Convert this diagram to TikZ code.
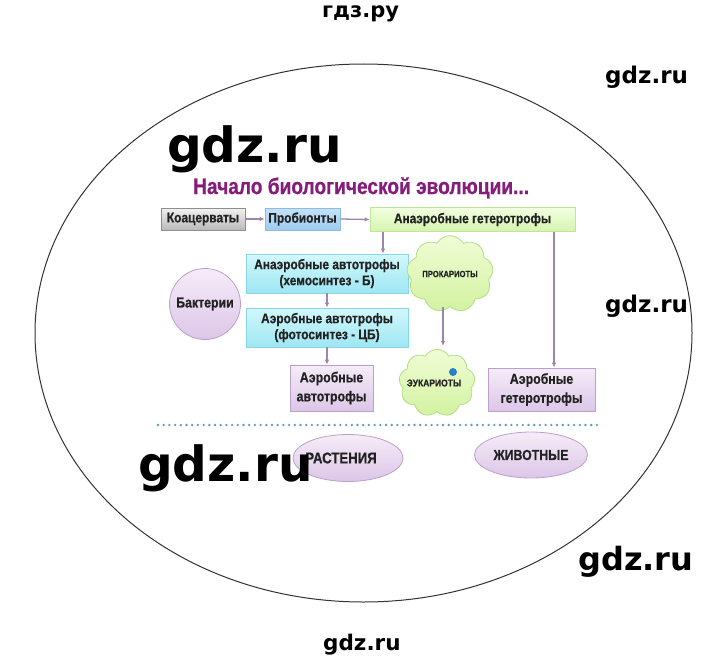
\documentclass[tikz,border=0pt]{standalone}
\usepackage{fontspec}
\setmainfont{Liberation Sans}
\newfontfamily\nb[FakeStretch=0.85,FakeBold=0.6,UprightFont={* Bold},BoldFont={* Bold}]{Liberation Sans}
\newfontfamily\wm{DejaVu Sans}
\usetikzlibrary{shapes.symbols,shapes.geometric,arrows.meta,calc}
\definecolor{txt}{HTML}{222222}
\definecolor{titlec}{HTML}{861C7C}
\definecolor{arrc}{HTML}{9C86AC}
\definecolor{dotc}{HTML}{5B9DB5}
\definecolor{grayT}{HTML}{F2F2F2}
\definecolor{grayB}{HTML}{B9B9B9}
\definecolor{grayD}{HTML}{8E8E8E}
\definecolor{blueT}{HTML}{C4E2F8}
\definecolor{blueB}{HTML}{9ECCEE}
\definecolor{blueD}{HTML}{8CBCE0}
\definecolor{greenT}{HTML}{F2FFE0}
\definecolor{greenB}{HTML}{D6F4AE}
\definecolor{greenD}{HTML}{BEE69A}
\definecolor{cyanT}{HTML}{D2F8FC}
\definecolor{cyanB}{HTML}{9EE6F2}
\definecolor{cyanD}{HTML}{88D6E6}
\definecolor{purT}{HTML}{F6ECF8}
\definecolor{purB}{HTML}{DCC6E8}
\definecolor{purD}{HTML}{BBA0CC}
\definecolor{cloudT}{HTML}{F0FDD6}
\definecolor{cloudB}{HTML}{D2F2A0}
\definecolor{cloudD}{HTML}{B2DE84}
\definecolor{dotblue}{HTML}{2E7FC0}
\tikzset{
  boxtext/.style={font=\nb\fontsize{14}{16}\selectfont, text=txt, align=center, inner sep=0pt},
  rbox/.style={rectangle, boxtext, line width=0.8pt},
  graybox/.style={rbox, draw=grayD, top color=grayT, bottom color=grayB},
  bluebox/.style={rbox, draw=blueD, top color=blueT, bottom color=blueB},
  greenbox/.style={rbox, draw=greenD, top color=greenT, bottom color=greenB},
  cyanbox/.style={rbox, draw=cyanD, top color=cyanT, bottom color=cyanB},
  purbox/.style={rbox, draw=purD, top color=purT, bottom color=purB},
  purround/.style={boxtext, draw=purD, line width=0.8pt, top color=purT, bottom color=purB},
  cloudnode/.style={cloud, cloud puffs=9, cloud puff arc=120, aspect=1.2, draw=cloudD, line width=0.8pt,
     top color=cloudT, bottom color=cloudB, text=txt, inner sep=0pt},
  arr/.style={-{Latex[length=5pt,width=4.5pt]}, draw=arrc, line width=1.3pt},
  wmark/.style={anchor=base west, inner sep=0pt, text=black},
}
\begin{document}
\begin{tikzpicture}[x=1pt,y=-1pt]
\useasboundingbox (0,0) rectangle (720,661);
\fill[white] (0,0) rectangle (720,661);

% outer ellipse
\draw[line width=1pt, black!80] (363.5,333) ellipse [x radius=328.5pt, y radius=269pt];

% title
\node[anchor=base west, inner sep=0pt, text=titlec, font=\nb\fontsize{22.5}{24}\selectfont] (title) at (193,194) {Начало биологической эволюции...};

% top row
\node[graybox, minimum width=84pt, minimum height=22pt] (koa) at (203,219) {Коацерваты};
\node[bluebox, minimum width=75pt, minimum height=22pt] (prob) at (302.5,219) {Пробионты};
\node[greenbox, minimum width=205pt, minimum height=24pt] (anhet) at (472.5,219.5) {Анаэробные гетеротрофы};

% autotroph column
\node[cyanbox, minimum width=162pt, minimum height=39pt] (anauto) at (327,273.5) {Анаэробные автотрофы\\(хемосинтез - Б)};
\node[cyanbox, minimum width=162pt, minimum height=39pt] (aeauto) at (327,327.5) {Аэробные автотрофы\\(фотосинтез - ЦБ)};
\node[purbox, minimum width=83pt, minimum height=46pt, font=\nb\fontsize{14.5}{19}\selectfont] (aeauto2) at (331.5,388) {Аэробные\\автотрофы};
\node[purbox, minimum width=107pt, minimum height=43pt, font=\nb\fontsize{14.5}{19}\selectfont] (aehet) at (541.5,389.5) {Аэробные\\гетеротрофы};

% bacteria circle
\node[purround, circle, minimum size=71pt, font=\nb\fontsize{14.5}{16}\selectfont] (bakt) at (205,304) {Бактерии};

% clouds
\node[cloudnode, minimum width=76pt, minimum height=62pt, font=\nb\fontsize{9}{11}\selectfont] (prok) at (450,274) {ПРОКАРИОТЫ};
\node[cloudnode, minimum width=76pt, minimum height=60pt, font=\nb\fontsize{10}{12}\selectfont] (euk) at (437,383) {\hspace*{-6pt}ЭУКАРИОТЫ};
\fill[dotblue] (453,372) circle [radius=4pt];

% kingdoms
\node[purround, ellipse, minimum width=110pt, minimum height=47pt, font=\nb\fontsize{15.5}{16}\selectfont] (rast) at (348,458) {\hspace*{-14pt}РАСТЕНИЯ};
\node[purround, ellipse, minimum width=113pt, minimum height=46pt, font=\nb\fontsize{14.5}{16}\selectfont] (jiv) at (531,455) {ЖИВОТНЫЕ};

% helper coordinates
\coordinate (xa) at (383,0);
\coordinate (xb) at (554,0);
\coordinate (xc) at (443,0);
\coordinate (dl) at (158,425);
\coordinate (dr) at (598,425);

% arrows
\draw[arr] (koa.east) -- (prob.west);
\draw[arr] (prob.east) -- (anhet.west);
\draw[arr] (anhet.south -| xa) -- (anauto.north -| xa);
\draw[arr] (anauto.south) -- (aeauto.north);
\draw[arr] (aeauto.south) -- (aeauto.south |- aeauto2.north);
\draw[arr] (anhet.south -| xb) -- (aehet.north -| xb);
\draw[arr] (prok.south -| xc) -- ($(euk.north -| xc)+(0,-3)$);

% dotted separator
\draw[dotc, line width=2.6pt, line cap=round, dash pattern=on 0pt off 5.7pt] (dl) -- (dr);

% watermarks
\node[wmark, font=\wm\bfseries\fontsize{21}{21}\selectfont] (w0) at (322,18) {гдз.ру};
\node[wmark, font=\wm\bfseries\fontsize{23}{23}\selectfont] (w1) at (605,84) {gdz.ru};
\node[wmark, font=\wm\bfseries\fontsize{48.5}{48}\selectfont] (w2) at (167,162) {gdz.ru};
\node[wmark, font=\wm\bfseries\fontsize{23}{23}\selectfont] (w3) at (605,312) {gdz.ru};
\node[wmark, font=\wm\bfseries\fontsize{48.5}{48}\selectfont] (w4) at (138,481) {gdz.ru};
\node[wmark, font=\wm\bfseries\fontsize{32}{32}\selectfont] (w5) at (578,570) {gdz.ru};
\node[wmark, font=\wm\bfseries\fontsize{21.5}{21}\selectfont] (w6) at (323,650) {gdz.ru};
\end{tikzpicture}
\end{document}
